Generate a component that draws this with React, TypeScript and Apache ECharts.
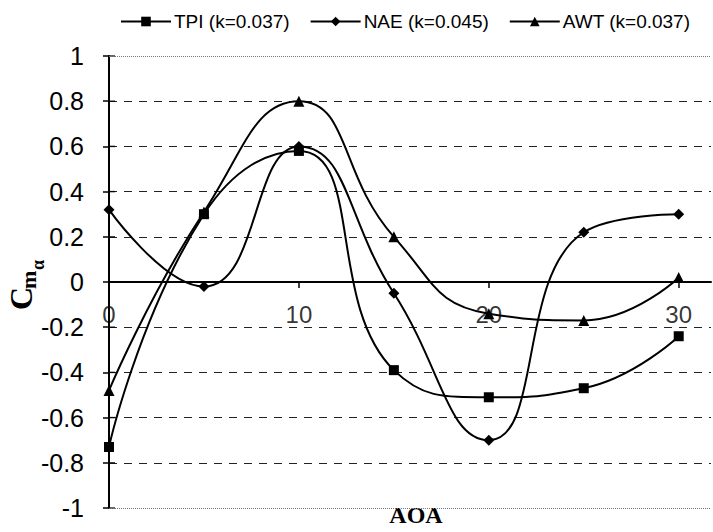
import React, { useEffect, useRef } from "react";
import * as echarts from "echarts";

// Angle of attack stations (deg)
const AOA = [0, 5, 10, 15, 20, 25, 30];

// Pitch-damping derivative Cmα for each data set
const TPI = [-0.73, 0.3, 0.58, -0.39, -0.51, -0.47, -0.24];
const NAE = [0.32, -0.02, 0.6, -0.05, -0.7, 0.22, 0.3];
const AWT = [-0.48, 0.31, 0.8, 0.2, -0.14, -0.17, 0.02];

const SERIES_NAMES = ["TPI (k=0.037)", "NAE (k=0.045)", "AWT (k=0.037)"];
const SYMBOLS = ["rect", "diamond", "triangle"];
const X_TICKS = [0, 10, 20, 30];
const Y_TICKS = [-1, -0.8, -0.6, -0.4, -0.2, 0, 0.2, 0.4, 0.6, 0.8, 1];

const SANS = "'Liberation Sans', Arial, sans-serif";
const SERIF = "'Liberation Serif', 'Times New Roman', serif";

export default function App() {
  const ref = useRef<HTMLDivElement>(null);

  useEffect(() => {
    if (!ref.current) return;
    const chart = echarts.init(ref.current, undefined, { renderer: "svg" });

    const sets = [TPI, NAE, AWT];
    const series: any[] = sets.map((vals, i) => ({
      name: SERIES_NAMES[i],
      type: "line",
      smooth: true,
      symbol: SYMBOLS[i],
      symbolSize: i === 0 ? 10 : 11,
      data: AOA.map((a, j) => [a, vals[j]]),
      lineStyle: { color: "#000", width: 2 },
      itemStyle: { color: "#000" },
      z: 3,
    }));

    // dotted frame lines at the top and bottom of the value range
    series.push({
      type: "line",
      data: [],
      silent: true,
      markLine: {
        silent: true,
        symbol: "none",
        label: { show: false },
        lineStyle: { type: "dotted", color: "#777", width: 1 },
        data: [{ yAxis: 1 }, { yAxis: -1 }],
      },
    });

    // AOA tick labels hanging under the zero line
    series.push({
      type: "scatter",
      silent: true,
      symbolSize: 0,
      data: X_TICKS.map((v) => [v, 0]),
      label: {
        show: true,
        position: "bottom",
        distance: 20,
        fontFamily: SANS,
        fontSize: 24,
        color: "#000",
        formatter: (p: any) => String(p.value[0]),
      },
      z: 2,
    });

    // inner halves of the crossing ticks on the value axis
    series.push({
      type: "scatter",
      silent: true,
      symbol: "rect",
      symbolSize: [6, 1.5],
      symbolOffset: [3, 0],
      itemStyle: { color: "#000" },
      data: Y_TICKS.map((v) => [0, v]),
      z: 4,
    });

    chart.setOption({
      animation: false,
      backgroundColor: "#fff",
      legend: {
        data: SERIES_NAMES,
        left: 115,
        top: 7,
        itemWidth: 50,
        itemHeight: 12,
        itemGap: 20,
        textStyle: { fontFamily: SANS, fontSize: 19, color: "#000", padding: [0, 0, 0, -2] },
      },
      grid: { left: 109, right: 2, top: 56, bottom: 24, containLabel: false, outerBoundsMode: "none" },
      xAxis: {
        type: "value",
        min: 0,
        max: 31.7,
        interval: 10,
        axisLine: { onZero: true, lineStyle: { color: "#000", width: 2 } },
        axisTick: { show: true, length: 6, customValues: X_TICKS, lineStyle: { color: "#000", width: 1.5 } },
        axisLabel: { show: false },
        splitLine: { show: false },
      },
      yAxis: {
        type: "value",
        min: -1,
        max: 1,
        interval: 0.2,
        axisLine: { show: true, onZero: false, lineStyle: { color: "#000", width: 2 } },
        axisTick: { show: true, length: 6, lineStyle: { color: "#000", width: 1.5 } },
        axisLabel: {
          margin: 25,
          fontFamily: SANS,
          fontSize: 25,
          color: "#000",
          formatter: (v: number) => String(Math.round(v * 10) / 10),
        },
        splitLine: {
          show: true,
          showMinLine: false,
          showMaxLine: false,
          lineStyle: { type: [8, 7], color: "#222", width: 1.2 },
        },
      },
      graphic: [
        {
          type: "group",
          x: 0,
          y: 310,
          rotation: Math.PI / 2,
          children: [
            {
              type: "text",
              x: 0,
              y: 21,
              style: {
                text: "C",
                font: `bold 32px ${SERIF}`,
                fill: "#000",
                align: "left",
                verticalAlign: "middle",
              },
            },
            {
              type: "text",
              x: 21,
              y: 28,
              style: {
                text: "m",
                font: `bold 22px ${SERIF}`,
                fill: "#000",
                align: "left",
                verticalAlign: "middle",
              },
            },
            {
              type: "text",
              x: 40,
              y: 38,
              style: {
                text: "α",
                font: `bold 18px ${SERIF}`,
                fill: "#000",
                align: "left",
                verticalAlign: "middle",
              },
            },
          ],
        },
        {
          type: "text",
          x: 416,
          y: 515,
          style: {
            text: "AOA",
            font: `bold 24px ${SERIF}`,
            fill: "#000",
            align: "center",
            verticalAlign: "middle",
          },
        },
      ],
      series,
    });

    return () => chart.dispose();
  }, []);

  return (
    <div
      ref={ref}
      style={{ position: "fixed", left: 0, top: 0, width: 713, height: 532, background: "#fff" }}
    />
  );
}
